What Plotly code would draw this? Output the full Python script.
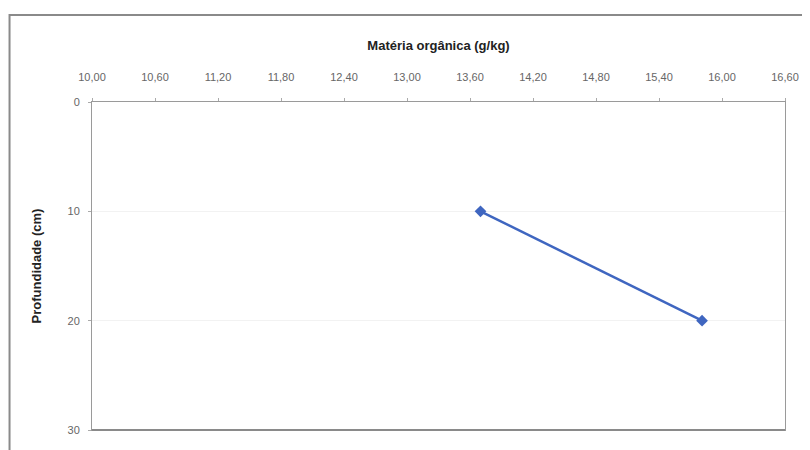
import plotly.graph_objects as go

# data
materia_organica = [13.70, 15.81]
profundidade = [10, 20]
x_ticks = [10.0, 10.6, 11.2, 11.8, 12.4, 13.0, 13.6, 14.2, 14.8, 15.4, 16.0, 16.6]
y_ticks = [0, 10, 20, 30]

linha = go.Scatter(
    x=materia_organica,
    y=profundidade,
    mode="lines+markers",
    line=dict(color="#3f66c0", width=2.5),
    marker=dict(symbol="diamond", size=9, color="#3f66c0"),
    showlegend=False,
)

fig = go.Figure(data=[linha])

# page body has an 8px margin, so the figure is a bit smaller
fig.update_layout(
    width=802,
    height=442,
    margin=dict(l=84, r=25, t=94, b=20),
    paper_bgcolor="white",
    plot_bgcolor="white",
    separators=",.",
    font=dict(family="Liberation Sans, Arial, sans-serif", color="#555555"),
    xaxis=dict(
        side="top",
        automargin=False,
        range=[10, 16.6],
        tickvals=x_ticks,
        tickformat=".2f",
        tickfont=dict(size=11, color="#666666"),
        ticklabelstandoff=13,
        ticks="outside",
        ticklen=3,
        tickcolor="#aaaaaa",
        showgrid=False,
        zeroline=False,
        showline=True,
        linecolor="#9a9a9a",
        linewidth=1,
        mirror=True,
        title=dict(text="<b>Matéria orgânica (g/kg)</b>",
                   font=dict(size=13, color="#222222"), standoff=17),
    ),
    yaxis=dict(
        automargin=False,
        range=[30, 0],
        tickvals=y_ticks,
        tickfont=dict(size=11, color="#666666"),
        ticklabelstandoff=6,
        ticks="outside",
        ticklen=3,
        tickcolor="#aaaaaa",
        showgrid=True,
        gridcolor="#f2f2f2",
        zeroline=False,
        showline=True,
        linecolor="#9a9a9a",
        linewidth=1,
        mirror=True,
        title=dict(text="<b>Profundidade (cm)</b>",
                   font=dict(size=13, color="#222222"), standoff=22),
    ),
    shapes=[
        # outer chart frame
        dict(type="rect", xref="paper", yref="paper",
             x0=-0.119, x1=1.04, y0=-0.1, y1=1.265,
             line=dict(color="#8a8a8a", width=2)),
        # heavier bottom edge of the plot area
        dict(type="line", xref="paper", yref="paper",
             x0=0, x1=1, y0=0, y1=0,
             line=dict(color="#8a8a8a", width=2)),
    ],
)

fig.write_html("out.html")
